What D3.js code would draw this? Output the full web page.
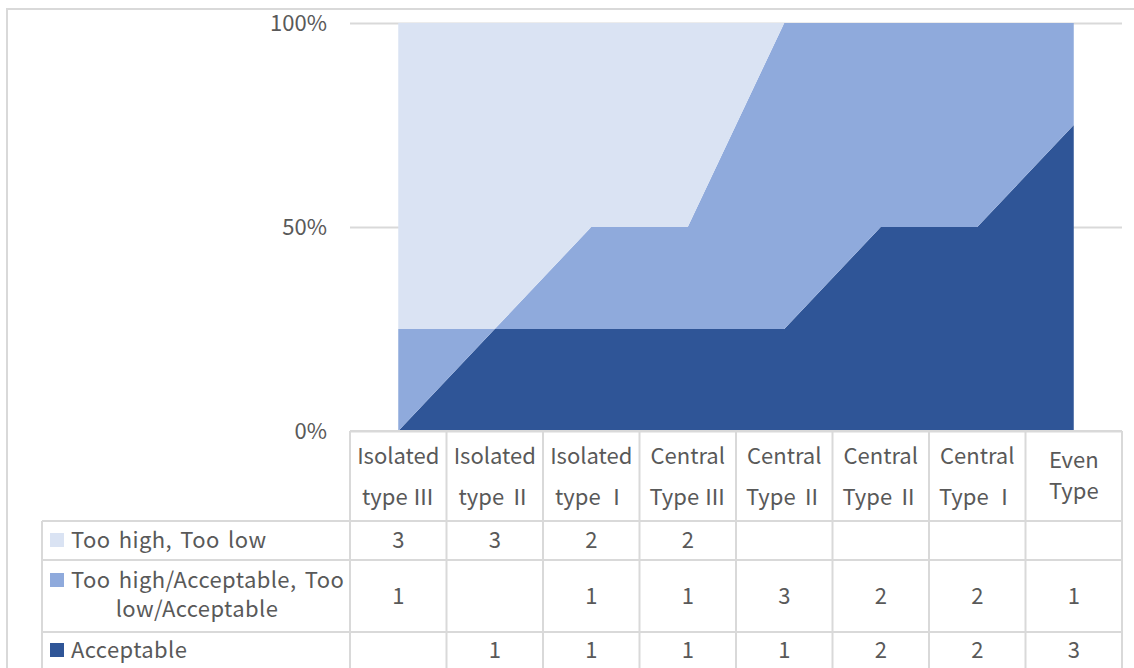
<!DOCTYPE html>
<html>
<head>
<meta charset="utf-8">
<script src="https://cdn.jsdelivr.net/npm/d3@7"></script>
<style>
  body { margin: 0; background: #fff; }
  text { font-family: "Noto Sans CJK KR", "Noto Sans", sans-serif; fill: #595959; }
  .fw { font-family: "Noto Sans CJK JP", "Noto Sans CJK KR", sans-serif; font-variant-east-asian: full-width; font-feature-settings: "fwid" 1; }
</style>
</head>
<body>
<div id="chart"></div>
<script>
// categories, two text lines each as in the table header
var categories = ["Isolated type \u2162", "Isolated type \u2161", "Isolated type \u2160", "Central Type \u2162",
                  "Central Type \u2161", "Central Type \u2161 ", "Central Type \u2160", "Even Type"];
var headerLines = [["Isolated", "type ", "\u2162"], ["Isolated", "type ", "\u2161"], ["Isolated", "type ", "\u2160"], ["Central", "Type ", "\u2162"],
                   ["Central", "Type ", "\u2161"], ["Central", "Type ", "\u2161"], ["Central", "Type ", "\u2160"], ["Even", "Type", ""]];
var seriesNames = ["Too high, Too low", "Too high/Acceptable, Too low/Acceptable", "Acceptable"];
var tooHighLow = [3, 3, 2, 2, 0, 0, 0, 0];
var tooHighAcceptable = [1, 0, 1, 1, 3, 2, 2, 1];
var acceptable = [0, 1, 1, 1, 1, 2, 2, 3];
// table shows blanks where the count is zero
var tickValues = [0, 0.5, 1];
var colors = ["#DAE3F3", "#8FAADC", "#2F5597"];

var width = 1134, height = 668;
var plotLeft = 350, plotRight = 1122, plotTop = 23, plotBottom = 431;
var fontSize = "22px";

var svg = d3.select("#chart")
  .append("svg")
    .attr("width", width)
    .attr("height", height);

// outer chart border
svg.append("path")
  .attr("d", "M7,700 V9 H1140")
  .attr("fill", "none")
  .attr("stroke", "#d9d9d9")
  .attr("stroke-width", 2);

var table = categories.map(function(c, i) {
  return {cat: c, a: acceptable[i], m: tooHighAcceptable[i], t: tooHighLow[i]};
});

var x = d3.scaleBand()
  .domain(categories)
  .range([plotLeft, plotRight])
  .padding(0);

var y = d3.scaleLinear()
  .domain([0, 1])
  .range([plotBottom, plotTop]);

// gridlines + tick labels
var yAxis = svg.append("g")
  .attr("transform", "translate(" + plotLeft + ",0)")
  .call(d3.axisLeft(y)
    .tickValues(tickValues)
    .tickFormat(d3.format(".0%"))
    .tickSize(-(plotRight - plotLeft))
    .tickPadding(23));
yAxis.select(".domain").remove();
yAxis.selectAll("line").attr("stroke", "#d9d9d9").attr("stroke-width", 2);
yAxis.selectAll("text")
  .style("font-size", fontSize)
  .attr("font-family", null)
  .attr("fill", "#595959");

// stacked 100% areas
var stack = d3.stack()
  .keys(["a", "m", "t"])
  .offset(d3.stackOffsetExpand);
var layers = stack(table);

var area = d3.area()
  .x(function(d) { return x(d.data.cat) + x.bandwidth() / 2; })
  .y0(function(d) { return y(d[0]); })
  .y1(function(d) { return y(d[1]); });

var layerColor = {a: colors[2], m: colors[1], t: colors[0]};
svg.append("g")
  .selectAll("path")
  .data(layers)
  .enter()
  .append("path")
    .attr("d", area)
    .attr("fill", function(d) { return layerColor[d.key]; });

// data table
var tableLeft = 42;
var rowEdges = [plotBottom, 521, 560, 632, 700];
var grid = svg.append("g")
  .attr("stroke", "#d9d9d9")
  .attr("stroke-width", 2)
  .attr("fill", "none");

// horizontal lines
rowEdges.slice(0, 4).forEach(function(yy, i) {
  grid.append("line")
    .attr("x1", i == 0 ? plotLeft : tableLeft)
    .attr("x2", plotRight)
    .attr("y1", yy).attr("y2", yy);
});
// vertical lines
var colEdges = categories.map(function(c) { return x(c); }).concat([plotRight]);
colEdges.forEach(function(xx) {
  grid.append("line")
    .attr("x1", xx).attr("x2", xx)
    .attr("y1", plotBottom).attr("y2", height + 10);
});
grid.append("line")
  .attr("x1", tableLeft).attr("x2", tableLeft)
  .attr("y1", rowEdges[1]).attr("y2", height + 10);

// header cells
var header = svg.append("g");
headerLines.forEach(function(lines, i) {
  var cx = x(categories[i]) + x.bandwidth() / 2;
  var even = lines[0] == "Even";
  header.append("text")
    .attr("x", cx)
    .attr("y", even ? 460 : 456)
    .attr("dy", "0.35em")
    .attr("text-anchor", "middle")
    .style("font-size", fontSize)
    .text(lines[0]);
  var t2 = header.append("text")
    .attr("x", cx)
    .attr("y", even ? 491 : 497)
    .attr("dy", "0.35em")
    .attr("text-anchor", "middle")
    .style("font-size", fontSize);
  t2.append("tspan").text(lines[1]);
  if (lines[2]) t2.append("tspan").attr("class", "fw").text(lines[2]);
});

// legend column
var rowCenters = [540, 596, 650];
var seriesValues = [tooHighLow, tooHighAcceptable, acceptable];
var legend = svg.append("g");
seriesNames.forEach(function(name, i) {
  var cy = i == 1 ? 580 : rowCenters[i];
  legend.append("rect")
    .attr("x", 50)
    .attr("y", cy - 7)
    .attr("width", 14)
    .attr("height", 14)
    .attr("fill", colors[i]);
  var lines = i == 1 ? ["Too high/Acceptable, Too", "low/Acceptable"] : [name];
  lines.forEach(function(l, k) {
    legend.append("text")
      .attr("x", k == 0 ? 71 : 197)
      .attr("y", k == 0 ? cy : 609)
      .attr("dy", "0.35em")
      .attr("text-anchor", k == 0 ? "start" : "middle")
      .style("font-size", fontSize)
      .style("letter-spacing", "0.4px")
      .style("word-spacing", "3px")
      .text(l);
  });
  // values
  seriesValues[i].forEach(function(v, j) {
    if (v == 0) return;
    legend.append("text")
      .attr("x", x(categories[j]) + x.bandwidth() / 2)
      .attr("y", rowCenters[i])
      .attr("dy", "0.35em")
      .attr("text-anchor", "middle")
      .style("font-size", fontSize)
      .text(v);
  });
});
</script>
</body>
</html>
